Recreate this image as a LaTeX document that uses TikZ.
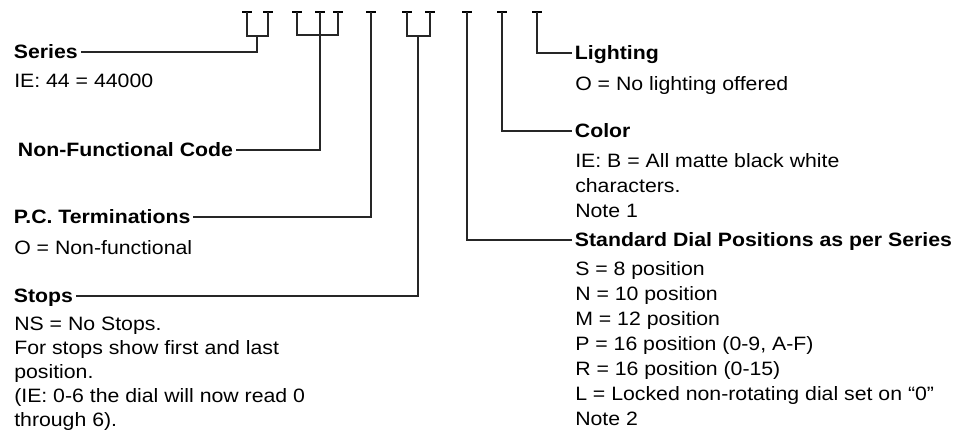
\documentclass[tikz,border=0pt]{standalone}
\usepackage{fontspec}
\setmainfont{Liberation Sans}[FakeStretch=1.1]
\begin{document}
\begin{tikzpicture}[x=0.75pt,y=-0.75pt,
  head/.style={font=\fontsize{14.5pt}{18pt}\selectfont\bfseries,inner xsep=2pt,inner ysep=0pt,text height=10.4pt,text depth=0pt,anchor=west},
  descL/.style={font=\fontsize{14.5pt}{18pt}\selectfont,inner sep=0pt,align=left,anchor=north west},
  descR/.style={font=\fontsize{14.5pt}{18.75pt}\selectfont,inner sep=0pt,align=left,anchor=north west},
  tick/.style={fill=black,inner sep=0pt,minimum width=7.5pt,minimum height=1.6pt},
  conn/.style={line width=0.85pt,black!85}]
\useasboundingbox (0,0) rectangle (970,429);
% code ticks
\node[tick] (t1) at (247,12) {};
\node[tick] (t2) at (268,12) {};
\node[tick] (t3) at (297,12) {};
\node[tick] (t4) at (320,12) {};
\node[tick] (t5) at (338,12) {};
\node[tick] (t6) at (371,12) {};
\node[tick] (t7) at (407,12) {};
\node[tick] (t8) at (430,12) {};
\node[tick] (t9) at (467,12) {};
\node[tick] (t10) at (502,12) {};
\node[tick] (t11) at (537,12) {};
\coordinate (j1) at (257,36);
\coordinate (j2) at (320,35);
\coordinate (j3) at (418,36);
% left labels
\node[head] (series) at (11,52) {Series};
\node[descL] (seriesd) at (14,70.1) {\strut IE: 44 = 44000};
\node[head] (nfc) at (15,150) {Non-Functional Code};
\node[head] (pct) at (11,217) {P.C. Terminations};
\node[descL] (pctd) at (14,237.1) {\strut O = Non-functional};
\node[head] (stops) at (11,296) {Stops};
\node[descL] (stopsd) at (14,313.1) {\strut NS = No Stops.\\For stops show first and last\\position.\\(IE: 0-6 the dial will now read 0\\through 6).};
% right labels
\node[head] (light) at (572,53) {Lighting};
\node[descR] (lightd) at (575,72.4) {\strut O = No lighting offered};
\node[head] (color) at (572,131) {Color};
\node[descR] (colord) at (575,149.4) {\strut IE: B = All matte black white\\characters.\\Note 1};
\node[head] (dial) at (572,240) {Standard Dial Positions as per Series};
\node[descR] (diald) at (575,257.4) {\strut S = 8 position\\N = 10 position\\M = 12 position\\P = 16 position (0-9, A-F)\\R = 16 position (0-15)\\L = Locked non-rotating dial set on ``0''\\Note 2};
% connectors
\draw[conn] (t1.center) |- (j1) -| (t2.center);
\draw[conn] (j1) |- (series.east);
\draw[conn] (t3.center) |- (j2) -| (t5.center);
\draw[conn] (t4.center) |- (nfc.east);
\draw[conn] (t6.center) |- (pct.east);
\draw[conn] (t7.center) |- (j3) -| (t8.center);
\draw[conn] (j3) |- (stops.east);
\draw[conn] (t9.center) |- (dial.west);
\draw[conn] (t10.center) |- (color.west);
\draw[conn] (t11.center) |- (light.west);
\end{tikzpicture}
\end{document}
